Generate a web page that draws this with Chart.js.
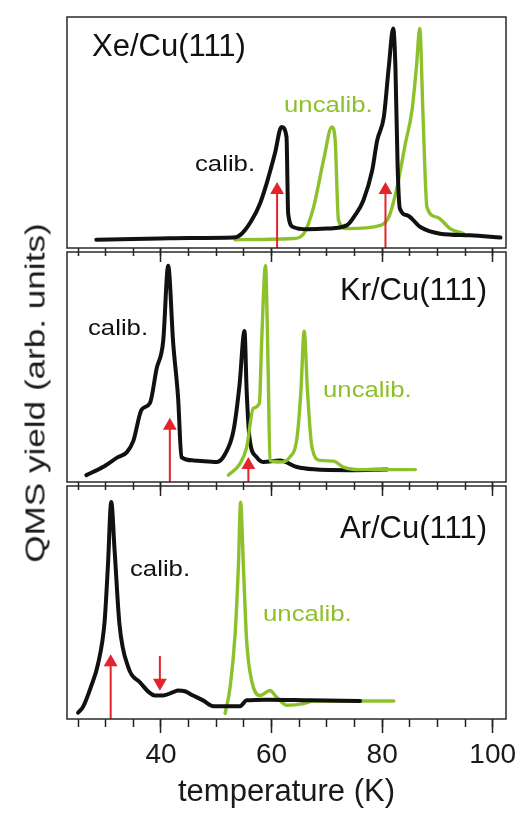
<!DOCTYPE html>
<html>
<head>
<meta charset="utf-8">
<script src="https://cdn.jsdelivr.net/npm/chart.js@4"></script>
<style>
  body { margin: 0; background: #fff; width: 524px; height: 814px; position: relative; overflow: hidden;
         font-family: "Liberation Sans", Arial, sans-serif; }
  canvas { position: absolute; left: 0; }
  .lbl { position: absolute; line-height: 1; white-space: nowrap; color: #111; }
  .big { font-size: 31px; }
  .small { font-size: 22px; transform: scaleX(1.17); transform-origin: left center; }
  .green { color: #8dc12c; }
  #ytitle { position: absolute; left: 36px; top: 393px; font-size: 27px; line-height: 1; white-space: nowrap; color: #1a1a1a;
            transform: translate(-50%, -50%) rotate(-90deg) scaleX(1.3); }
</style>
</head>
<body>
<canvas id="xe" width="524" height="262" style="top:0px"></canvas>
<canvas id="kr" width="524" height="252" style="top:244px"></canvas>
<canvas id="ar" width="524" height="336" style="top:478px"></canvas>

<div class="lbl big" style="left:92px; top:30px">Xe/Cu(111)</div>
<div class="lbl big" style="left:340px; top:274px">Kr/Cu(111)</div>
<div class="lbl big" style="left:340px; top:512px">Ar/Cu(111)</div>
<div class="lbl small" style="left:195px; top:153px">calib.</div>
<div class="lbl small green" style="left:284px; top:94px">uncalib.</div>
<div class="lbl small" style="left:88px; top:317px">calib.</div>
<div class="lbl small green" style="left:323px; top:379px">uncalib.</div>
<div class="lbl small" style="left:130px; top:558px">calib.</div>
<div class="lbl small green" style="left:263px; top:603px">uncalib.</div>
<div id="ytitle">QMS yield (arb. units)</div>

<script>
// Temperature axis
const minorTicks = [25, 30, 35, 40, 45, 50, 55, 60, 65, 70, 75, 80, 85, 90, 95, 100];
const majorTicks = [40, 60, 80, 100];

// Xe/Cu(111)
const xeCalibT = [28.3, 35, 39.8, 45, 53.1, 54.6, 56.4, 57.9, 59.1, 60.6, 61.8, 62.7, 63.0, 63.9, 66.4, 70.0, 73.6, 75.1, 76.6, 78.2, 79.1, 80.3, 81.2, 82.0, 82.4, 82.8, 83.2, 84.5, 86.9, 90.5, 95.9, 101.4];
const xeCalibY = [3.6, 3.9, 4.1, 4.3, 4.5, 6.2, 12.0, 19.2, 27.9, 40.9, 52.4, 48.1, 14.9, 9.1, 8.1, 8.4, 9.8, 14.2, 20.6, 33.6, 46.6, 56.7, 78.4, 95.0, 78.4, 35.1, 17.1, 14.2, 9.1, 6.2, 5.5, 4.5];
const xeUncalT = [53.4, 63.9, 65.8, 67.6, 69.4, 70.9, 71.5, 72.1, 73.6, 79.7, 81.2, 82.7, 84.2, 85.4, 86.2, 86.8, 87.4, 88.1, 89.9, 92.3, 94.7];
const xeUncalY = [3.6, 4.1, 6.2, 17.7, 38.0, 52.4, 46.6, 12.0, 8.4, 9.8, 13.4, 26.4, 45.2, 59.6, 78.4, 95.0, 56.7, 17.7, 13.4, 8.4, 6.2];
const xeArrowT = [61.0, 80.6];
const xeArrowTip = [28.6, 28.6];

// Kr/Cu(111)
const krCalibT = [26.5, 29.5, 32.2, 33.8, 35.0, 36.5, 38.0, 39.2, 40.4, 41.3, 42.2, 43.1, 43.7, 45.8, 50.1, 51.6, 53.1, 54.2, 55.1, 55.5, 56.0, 57.3, 58.5, 61.5, 64.6, 67.6, 74.2, 80.9];
const krCalibY = [3.0, 6.5, 10.8, 12.9, 17.9, 31.5, 34.3, 49.2, 61.3, 94.0, 60.6, 36.4, 10.8, 9.4, 8.7, 12.2, 22.2, 42.1, 65.6, 39.3, 19.3, 10.8, 8.7, 9.4, 6.5, 5.5, 5.1, 5.4];
const krUncalT = [52.2, 54.3, 55.5, 56.7, 57.8, 58.2, 58.9, 59.4, 59.7, 61.5, 63.3, 64.6, 65.3, 65.9, 66.5, 67.3, 68.8, 71.2, 73.0, 76.0, 86.0];
const krUncalY = [3.0, 8.0, 15.1, 32.1, 34.3, 60.6, 94.0, 46.4, 9.4, 8.7, 10.8, 19.3, 39.3, 65.6, 39.3, 15.1, 9.4, 9.1, 6.5, 5.4, 5.4];
const krArrowT = [41.6, 55.8];
const krArrowTip = [27.9, 10.8];

// Ar/Cu(111)
const arCalibT = [25.0, 25.9, 27.4, 28.6, 29.8, 30.4, 31.0, 31.6, 32.5, 34.1, 36.2, 38.9, 40.4, 42.2, 43.1, 44.3, 45.8, 47.6, 49.5, 54.3, 55.5, 59.1, 67.0, 76.0];
const arCalibY = [2.7, 5.2, 14.3, 23.5, 41.8, 65.7, 93.1, 72.7, 40.4, 22.1, 15.7, 10.1, 10.1, 11.5, 12.2, 11.9, 10.1, 8.0, 5.5, 5.5, 8.0, 8.3, 8.0, 7.7];
const arUncalT = [51.6, 52.5, 53.4, 54.0, 54.4, 54.9, 55.5, 56.4, 57.9, 59.7, 60.9, 62.8, 65.8, 67.6, 82.1];
const arUncalY = [2.4, 13.6, 36.2, 65.7, 93.1, 65.7, 33.3, 16.5, 10.1, 12.2, 9.4, 5.9, 6.6, 7.7, 7.7];
const arUpT = [30.9];
const arUpTip = [27.7];
const arDownT = [39.8];
const arDownFrom = [27.0];
const arDownTip = [12.2];

const GREEN = '#8dc12c';
const BLACK = '#111111';
const RED = '#e3242b';
const FONT = '"Liberation Sans", Arial, sans-serif';
const HEAD_R = 8;

function pts(ts, ys) {
  return ts.map((t, i) => ({ x: t, y: ys[i] }));
}

function curve(ts, ys, color, width) {
  return {
    data: pts(ts, ys),
    borderColor: color,
    borderWidth: width,
    pointRadius: 0,
    cubicInterpolationMode: 'monotone',
    borderJoinStyle: 'round',
    borderCapStyle: 'round'
  };
}

// arrow = shaft + triangle head; head centre shifted so the apex sits on the tip
function arrows(ts, froms, tips, down, pxPerUnit) {
  return ts.map((t, i) => {
    const off = HEAD_R / pxPerUnit;
    const head = down ? tips[i] + off : tips[i] - off;
    return {
      data: [{ x: t, y: froms[i] }, { x: t, y: head }],
      borderColor: RED,
      borderWidth: 2,
      tension: 0,
      pointRadius: [0, HEAD_R],
      pointStyle: 'triangle',
      pointRotation: down ? 180 : 0,
      pointBackgroundColor: RED,
      pointBorderWidth: 0
    };
  });
}

const frame = {
  id: 'frame',
  afterDraw(chart) {
    const { ctx, chartArea: a } = chart;
    ctx.save();
    ctx.strokeStyle = '#2a2a2a';
    ctx.lineWidth = 1.5;
    ctx.strokeRect(a.left, a.top, a.right - a.left, a.bottom - a.top);
    ctx.restore();
  }
};

function makePanel(id, datasets, padTop, axisH, isBottom) {
  new Chart(document.getElementById(id), {
    type: 'line',
    data: { datasets: datasets },
    options: {
      responsive: false,
      animation: false,
      layout: { padding: { top: padTop, left: 67, right: 18, bottom: 0 } },
      plugins: { legend: { display: false }, tooltip: { enabled: false } },
      scales: {
        x: {
          type: 'linear', position: 'bottom', weight: 0,
          min: 23.0, max: 102.4, bounds: 'data',
          afterBuildTicks: s => { s.ticks = minorTicks.map(v => ({ value: v })); },
          ticks: { display: false },
          grid: { drawOnChartArea: false, tickLength: 8, tickColor: '#222', tickWidth: 1.5 },
          border: { display: false },
          afterFit: s => { s.height = 0; }
        },
        xMajor: {
          type: 'linear', position: 'bottom', weight: 1,
          min: 23.0, max: 102.4, bounds: 'data',
          afterBuildTicks: s => { s.ticks = majorTicks.map(v => ({ value: v })); },
          ticks: { display: isBottom, font: { size: 28, family: FONT }, color: '#1a1a1a', padding: 5, maxRotation: 0, autoSkip: false },
          grid: { drawOnChartArea: false, tickLength: 14, tickColor: '#222', tickWidth: 1.5 },
          border: { display: false },
          title: { display: isBottom, text: 'temperature (K)', font: { size: 31, family: FONT }, color: '#1a1a1a', padding: { top: 0, bottom: 3 } },
          afterFit: s => { s.height = axisH; }
        },
        y: { display: false, min: 0, max: 100 }
      }
    },
    plugins: [frame]
  });
}

makePanel('xe', [
  ...arrows(xeArrowT, [0, 0], xeArrowTip, false, 2.31),
  curve(xeCalibT, xeCalibY, BLACK, 4),
  curve(xeUncalT, xeUncalY, GREEN, 3.4)
], 17, 14, false);

makePanel('kr', [
  ...arrows(krArrowT, [0, 0], krArrowTip, false, 2.34),
  curve(krUncalT, krUncalY, GREEN, 3.4),
  curve(krCalibT, krCalibY, BLACK, 4)
], 4, 14, false);

makePanel('ar', [
  ...arrows(arUpT, [0], arUpTip, false, 2.37),
  ...arrows(arDownT, arDownFrom, arDownTip, true, 2.37),
  curve(arCalibT, arCalibY, BLACK, 4),
  curve(arUncalT, arUncalY, GREEN, 3.4)
], 4, 95, true);
</script>
</body>
</html>
